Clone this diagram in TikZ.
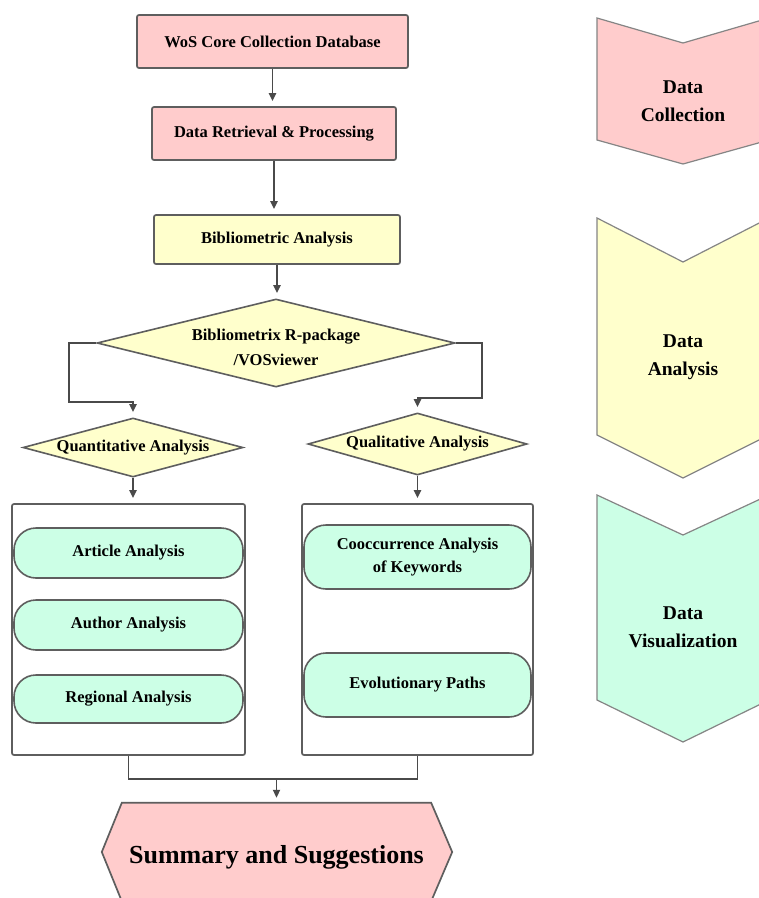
\documentclass[tikz,border=0pt]{standalone}
\usepackage{fontspec}
\setmainfont{Liberation Serif}
\usetikzlibrary{shapes.geometric,arrows.meta,backgrounds}
\definecolor{pinkf}{HTML}{FFCCCC}
\definecolor{yelf}{HTML}{FFFFCC}
\definecolor{mintf}{HTML}{CCFFE6}
\definecolor{edge}{HTML}{5E5E5E}
\definecolor{chev}{HTML}{858585}
\definecolor{arrc}{HTML}{4A4A4A}
\begin{document}
\begin{tikzpicture}[x=1pt,y=-1pt,
  lbl/.style={font=\fontsize{16.5}{21}\selectfont\bfseries, align=center, text=black},
  procbox/.style={lbl, draw=edge, line width=1.7pt, rounded corners=2pt, inner sep=0pt},
  decis/.style={diamond, draw=edge, line width=1.6pt, fill=yelf, inner sep=0pt},
  pill/.style={lbl, draw=edge, line width=1.6pt, fill=mintf, rounded corners=22pt, inner sep=0pt},
  group/.style={draw=edge, line width=1.7pt, rounded corners=2pt, inner sep=0pt},
  conn/.style={draw=arrc, line width=1.9pt},
  flow/.style={conn, -{Triangle[length=8pt,width=7pt]}, shorten >=5pt},
  phase/.style={font=\fontsize{19.5}{28}\selectfont\bfseries, align=center, text=black},
  chevshape/.style={draw=chev, line width=1.2pt},
]
\useasboundingbox (0,0) rectangle (759,898);

% ---------- phase chevrons ----------
\path[chevshape, fill=pinkf] (597,18) -- (683,43) -- (769,18) -- (769,140) -- (683,164) -- (597,140) -- cycle;
\node[phase] (pcol) at (683,101) {Data\\Collection};
\path[chevshape, fill=yelf] (597,218) -- (683,262) -- (769,218) -- (769,435) -- (683,478) -- (597,435) -- cycle;
\node[phase] (pana) at (683,357) {Data\\Analysis};
\path[chevshape, fill=mintf] (597,495) -- (683,535) -- (769,495) -- (769,700) -- (683,742) -- (597,700) -- cycle;
\node[phase] (pvis) at (683,627) {Data\\Visualization};

% ---------- top boxes ----------
\node[procbox, fill=pinkf, minimum width=271pt, minimum height=53pt] (wos) at (272.5,41.5) {WoS Core Collection Database};
\node[procbox, fill=pinkf, minimum width=244pt, minimum height=53pt] (ret) at (274,133.5) {Data Retrieval \& Processing};
\node[procbox, fill=yelf, minimum width=246pt, minimum height=49pt] (bib) at (277,239.5) {Bibliometric Analysis};

% ---------- decisions ----------
\node[decis, minimum width=358pt, minimum height=88pt,
      label={[lbl, yshift=-4pt, font=\fontsize{16.5}{25}\selectfont\bfseries]center:Bibliometrix R-package\\/VOSviewer}] (dia) at (276,343) {};
\node[decis, minimum width=220pt, minimum height=59pt,
      label={[lbl]center:Quantitative Analysis}] (quant) at (133,447.5) {};
\node[decis, minimum width=219pt, minimum height=62pt,
      label={[lbl]center:Qualitative Analysis}] (qual) at (417.5,444) {};

% ---------- groups ----------
\node[group, minimum width=233pt, minimum height=251pt] (lbox) at (128.5,629.5) {};
\node[group, minimum width=231pt, minimum height=251pt] (rbox) at (417.5,629.5) {};

\node[pill, minimum width=229pt, minimum height=50pt] (art) at (128.5,553) {Article Analysis};
\node[pill, minimum width=229pt, minimum height=50pt] (aut) at (128.5,625) {Author Analysis};
\node[pill, minimum width=229pt, minimum height=48pt] (reg) at (128.5,699) {Regional Analysis};
\node[pill, minimum width=227pt, minimum height=64pt, font=\fontsize{16.5}{23}\selectfont\bfseries] (coo) at (417.5,557) {Cooccurrence Analysis\\of Keywords};
\node[pill, minimum width=227pt, minimum height=64pt] (evo) at (417.5,685) {Evolutionary Paths};

% ---------- summary ----------
\node[minimum width=309pt, minimum height=98pt, inner sep=0pt,
      label={[font=\fontsize{26}{30}\selectfont\bfseries, text=black, yshift=-5pt]center:Summary and Suggestions}] (sum) at (276.5,852) {};
\begin{scope}[on background layer]
\fill[white] (0,0) rectangle (759,898);
\path[draw=edge, line width=1.7pt, fill=pinkf]
  (sum.north west) -- (sum.north east) -- ([xshift=21pt]sum.east) -- (sum.south east)
  -- (sum.south west) -- ([xshift=-20pt]sum.west) -- cycle;
\end{scope}

% ---------- connectors ----------
\draw[flow] (wos.south) -- (wos.south |- ret.north);
\draw[flow] (ret.south) -- (ret.south |- bib.north);
\draw[flow] (bib.south) -- (bib.south |- dia.north);
\coordinate (lc) at (69,402);
\coordinate (rc) at (482,398);
\draw[flow] (dia.west) -| (lc) -| (quant.north);
\draw[flow] (dia.east) -| (rc) -| (qual.north);
\draw[flow] (quant.south) -- (quant.south |- lbox.north);
\draw[flow] (qual.south) -- (qual.south |- rbox.north);
\coordinate (jn) at (276.5,779);
\draw[conn] (lbox.south) |- (jn) -| (rbox.south);
\draw[flow] (jn) -- (sum.north);
\end{tikzpicture}
\end{document}
